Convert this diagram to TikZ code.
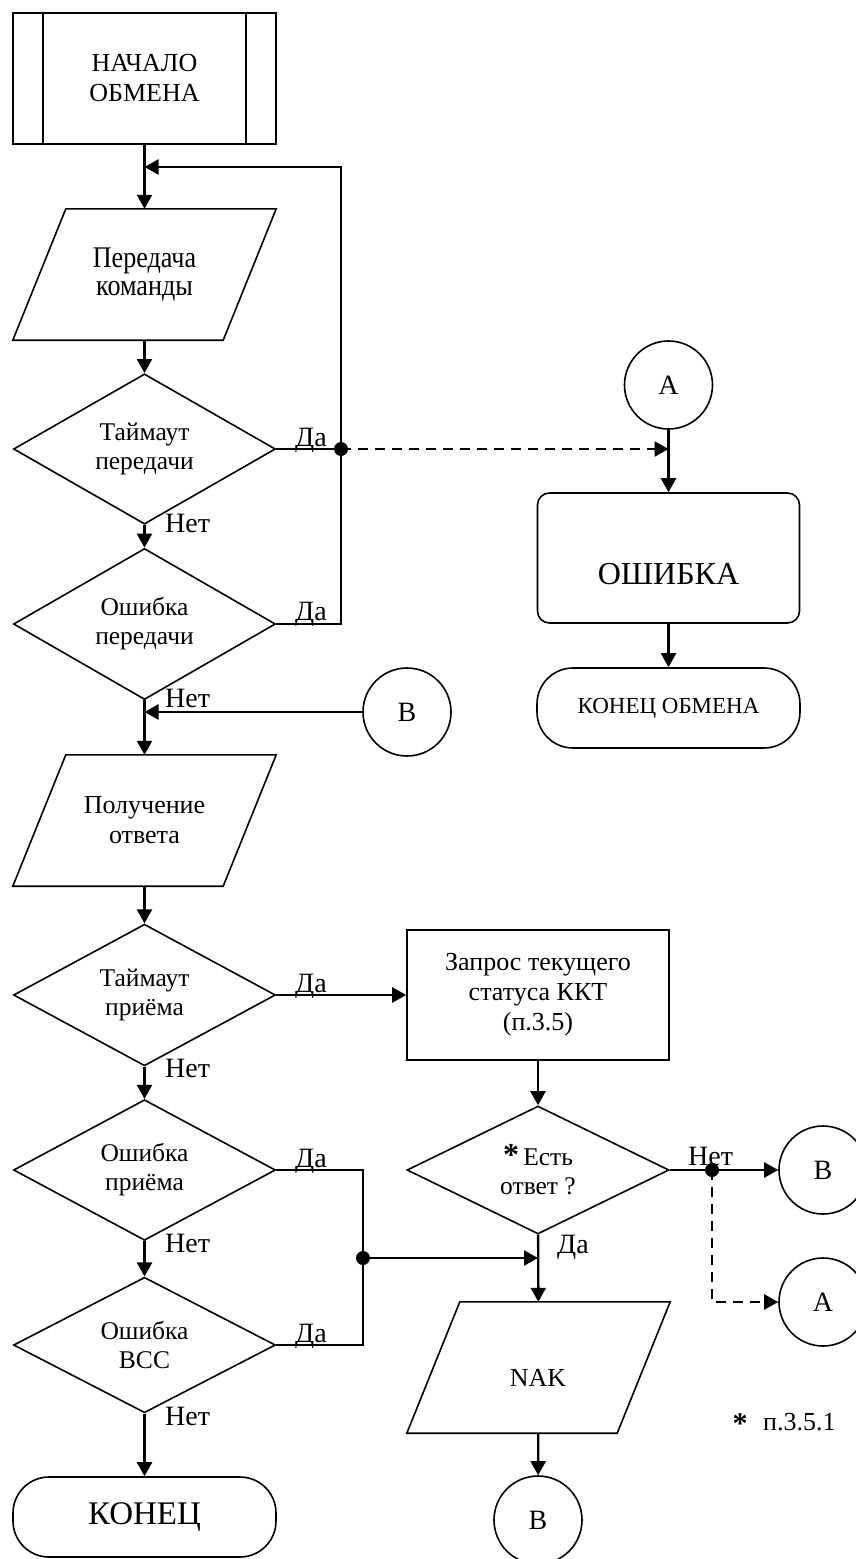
\documentclass[tikz,border=0pt]{standalone}
\usepackage{fontspec}
\setmainfont{Liberation Serif}
\newfontfamily\tallfont[FakeStretch=0.87]{Liberation Serif}
\usetikzlibrary{shapes.geometric, arrows.meta, calc}
\newcommand\paral[1]{\draw[ol] ($(#1.north west)+(26.5,0)$) -- ($(#1.north east)+(26.5,0)$) -- ($(#1.south east)+(-26.5,0)$) -- ($(#1.south west)+(-26.5,0)$) -- cycle;}
\begin{document}
\begin{tikzpicture}[x=1pt,y=-1pt,
  fmain/.style={font=\fontsize{26}{30}\selectfont},
  fdia/.style={font=\fontsize{25.5}{29}\selectfont},
  ol/.style={line width=1.6pt},
  shp/.style={draw, line width=1.6pt, inner sep=0pt, align=center},
  io/.style={inner sep=0pt, minimum width=210pt, minimum height=131pt, align=center, fmain},
  dia/.style={shp, diamond, minimum width=262pt, minimum height=128pt, fdia},
  conn/.style={shp, circle, minimum size=88pt, font=\fontsize{28}{28}\selectfont},
  term/.style={shp, rectangle, rounded corners=36pt, minimum width=263pt, minimum height=80pt},
  tip/.style={-{Triangle[length=14pt,width=15pt]}},
  ln/.style={line width=2.4pt},
  arr/.style={ln, tip},
  dsh/.style={line width=2.4pt, dash pattern=on 10pt off 7pt},
  lbl/.style={font=\fontsize{28}{28}\selectfont, inner sep=0pt}]
\useasboundingbox (0,0) rectangle (855,1559);

% left column
\node[shp, minimum width=263pt, minimum height=131pt, fmain] (start) at (144.5,78.5) {НАЧАЛО\\ОБМЕНА};
\draw[ol] ([xshift=31pt]start.north west) -- ([xshift=31pt]start.south west);
\draw[ol] ([xshift=-31pt]start.north east) -- ([xshift=-31pt]start.south east);
\node[io, font=\tallfont\fontsize{30}{27.5}\selectfont] (p1) at (144.5,274.5) {Передача\\команды};
\paral{p1}
\node[dia] (d1) at (144.5,449) {Таймаут\\передачи};
\node[dia] (d2) at (144.5,624) {Ошибка\\передачи};
\node[conn] (B1) at (407,712) {B};
\node[io] (p2) at (144.5,820.5) {Получение\\ответа};
\paral{p2}
\node[dia] (d3) at (144.5,995) {Таймаут\\приёма};
\node[dia] (d5) at (144.5,1170) {Ошибка\\приёма};
\node[dia] (d6) at (144.5,1345) {Ошибка\\BCC};
\node[term, font=\fontsize{33}{33}\selectfont] (fin) at (144.5,1517) {КОНЕЦ};

% right column
\node[conn] (A1) at (668.5,385) {A};
\node[shp, rounded corners=12pt, minimum width=262pt, minimum height=130pt] (err) at (668.5,558) {};
\node[font=\fontsize{32}{32}\selectfont] (errt) at (668.5,574) {ОШИБКА};
\node[term, font=\fontsize{23}{23}\selectfont] (endx) at (668.5,708) {КОНЕЦ ОБМЕНА};
\node[shp, rectangle, minimum width=262pt, minimum height=130pt, fmain] (req) at (538,995) {Запрос текущего\\статуса ККТ\\(п.3.5)};
\node[dia] (d4) at (538,1170) {{\fontsize{32}{29}\selectfont\bfseries *}\,Есть\\ответ ?};
\node[conn] (B2) at (823,1170) {B};
\node[conn] (A2) at (823,1302) {A};
\node[io] (nak) at (538.5,1367.5) {};
\paral{nak}
\node[fmain] (nakt) at (538,1378) {NAK};
\node[conn] (B3) at (538,1520) {B};

% footnote
\node[font=\fontsize{30}{30}\selectfont\bfseries, anchor=base, inner sep=0pt] (fa) at (740,1433) {*};
\node[fmain, anchor=base west, inner sep=0pt] (fn) at (763,1430) {п.3.5.1};

% coordinates
\coordinate (m1) at (144.5,167);
\coordinate (t1) at (341,167);
\coordinate (j1) at (341,449);
\coordinate (m2) at (144.5,712);
\coordinate (j2) at (712,1170);
\coordinate (k2) at (712,1302);
\coordinate (j3) at (363,1258);

% connectors
\draw[arr] (start) -- (p1);
\draw[arr] (p1) -- (d1);
\draw[ln] (d1.east) -- (j1);
\draw[arr] (d2.east) -| (t1) -- (m1);
\fill (j1) circle (7pt);
\draw[dsh, tip] (j1) -- (A1.south |- j1);
\draw[arr] (A1) -- (err);
\draw[arr] (err) -- (endx);
\draw[arr] (d1) -- (d2);
\draw[arr] (d2) -- (p2);
\draw[arr] (B1) -- (m2);
\draw[arr] (p2) -- (d3);
\draw[arr] (d3) -- (req);
\draw[arr] (d3) -- (d5);
\draw[arr] (d5) -- (d6);
\draw[arr] (d6) -- (fin);
\draw[arr] (req) -- (d4);
\draw[arr] (d4) -- (B2);
\fill (j2) circle (7pt);
\draw[dsh, tip] (j2) -- (k2) -- (A2);
\draw[arr] (d4) -- (nak);
\draw[ln] (d5.east) -| (j3) |- (d6.east);
\fill (j3) circle (7pt);
\draw[arr] (j3) -- (j3 -| d4);
\draw[arr] (nak) -- (B3);

% labels
\node[lbl, anchor=base west] (y1) at (295,446) {Да};
\node[lbl, anchor=base west] (y2) at (295,620) {Да};
\node[lbl, anchor=base west] (y3) at (295,992) {Да};
\node[lbl, anchor=base west] (y5) at (295,1167) {Да};
\node[lbl, anchor=base west] (y6) at (295,1342) {Да};
\node[lbl, anchor=base west] (y4) at (557,1253) {Да};
\node[lbl, anchor=base west] (n1) at (165,532) {Нет};
\node[lbl, anchor=base west] (n2) at (165,707) {Нет};
\node[lbl, anchor=base west] (n3) at (165,1077) {Нет};
\node[lbl, anchor=base west] (n5) at (165,1252) {Нет};
\node[lbl, anchor=base west] (n6) at (165,1425) {Нет};
\node[lbl, anchor=base west] (n4) at (688,1165) {Нет};
\end{tikzpicture}
\end{document}
